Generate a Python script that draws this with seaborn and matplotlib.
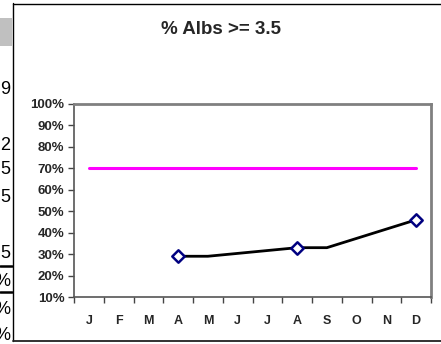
import numpy as np
import pandas as pd
import matplotlib
matplotlib.use("Agg")
import matplotlib.pyplot as plt
from matplotlib.patches import Rectangle
from matplotlib.lines import Line2D
from matplotlib.ticker import FixedLocator, PercentFormatter
import seaborn as sns

# ---- data ----
months = ["J", "F", "M", "A", "M", "J", "J", "A", "S", "O", "N", "D"]
albs_line = [np.nan, np.nan, np.nan, 0.29, 0.29, np.nan, np.nan, 0.33, 0.33, np.nan, np.nan, 0.46]
albs_marks = [np.nan, np.nan, np.nan, 0.29, np.nan, np.nan, np.nan, 0.33, np.nan, np.nan, np.nan, 0.46]
target = [0.70] * 12
y_ticks = [0.1, 0.2, 0.3, 0.4, 0.5, 0.6, 0.7, 0.8, 0.9, 1.0]
title = "% Albs >= 3.5"

# neighbouring sheet cells, clipped by the chart object
cell_text = ["9", "2", "5", "5", "5", "%", "%", "%"]
cell_rows_px = [90, 145, 170, 197, 253, 282, 310, 336]

sns.set_theme(style="white")
plt.rcParams["font.family"] = ["Liberation Sans", "DejaVu Sans"]

W, H = 441, 344
fig = plt.figure(figsize=(W / 100, H / 100), dpi=100)
fig.patch.set_facecolor("white")

def fx(px):
    return px / W

def fy(py):
    return 1 - py / H

# ---- spreadsheet fragments on the left ----
fig.add_artist(Rectangle((fx(0), fy(46)), fx(12), 28 / H, transform=fig.transFigure,
                         facecolor="#c0c0c0", edgecolor="none"))
for yy in (266, 292):
    fig.add_artist(Line2D([fx(0), fx(12)], [fy(yy), fy(yy)], transform=fig.transFigure,
                          color="black", lw=1.8))
for t, yy in zip(cell_text, cell_rows_px):
    fig.text(fx(10), fy(yy), t, ha="right", va="center", fontsize=13, color="black")

# chart object frame
fig.add_artist(Line2D([fx(12.5), fx(12.5)], [fy(3), fy(341)], transform=fig.transFigure,
                      color="black", lw=1.0))
fig.add_artist(Line2D([fx(12.5), fx(441)], [fy(3.5), fy(3.5)], transform=fig.transFigure,
                      color="black", lw=1.0))
fig.add_artist(Line2D([fx(12.5), fx(441)], [fy(341), fy(341)], transform=fig.transFigure,
                      color="#222222", lw=1.3))

# ---- plot area ----
ax = fig.add_axes([fx(74), fy(297), fx(431 - 74), (297 - 104) / H])
ax.set_facecolor("white")

x = np.arange(len(months))
df = pd.DataFrame({"x": x, "albs": albs_line, "marks": albs_marks, "target": target})

sns.lineplot(data=df, x="x", y="target", ax=ax, color="#ff00ff", lw=2.2)
sns.lineplot(data=df, x="x", y="albs", ax=ax, color="black", lw=2.0)
sns.scatterplot(data=df.dropna(subset=["marks"]), x="x", y="marks", ax=ax, marker="D",
                s=40, facecolor="white", edgecolor="#000080", linewidth=1.8, zorder=5)

ax.set_xlim(-0.5, 11.5)
ax.set_ylim(0.1, 1.0)
ax.set_xlabel("")
ax.set_ylabel("")

# category boundaries carry the ticks, labels sit in the middle
ax.xaxis.set_major_locator(FixedLocator(np.arange(-0.5, 12, 1)))
ax.xaxis.set_major_formatter(plt.NullFormatter())
ax.xaxis.set_minor_locator(FixedLocator(x))
ax.set_xticklabels(months, minor=True)
ax.tick_params(axis="x", which="major", direction="out", length=4, width=1, color="#444444",
               bottom=True)
ax.tick_params(axis="x", which="minor", length=0, pad=13, labelsize=9)
for lab in ax.get_xticklabels(minor=True):
    lab.set_fontweight("bold")

ax.set_yticks(y_ticks)
ax.yaxis.set_major_formatter(PercentFormatter(1.0, decimals=0))
ax.tick_params(axis="y", direction="out", length=4, width=1, color="#444444", left=True,
               labelsize=9.5, pad=3)
for lab in ax.get_yticklabels():
    lab.set_fontweight("bold")

for side in ("top", "right"):
    ax.spines[side].set_color("#808080")
    ax.spines[side].set_linewidth(2.0)
for side in ("left", "bottom"):
    ax.spines[side].set_color("#555555")
    ax.spines[side].set_linewidth(1.2)
ax.grid(False)

fig.text(fx(221), fy(29), title, ha="center", va="center", fontsize=13.5, fontweight="bold")

fig.savefig("out.png", dpi=100)
